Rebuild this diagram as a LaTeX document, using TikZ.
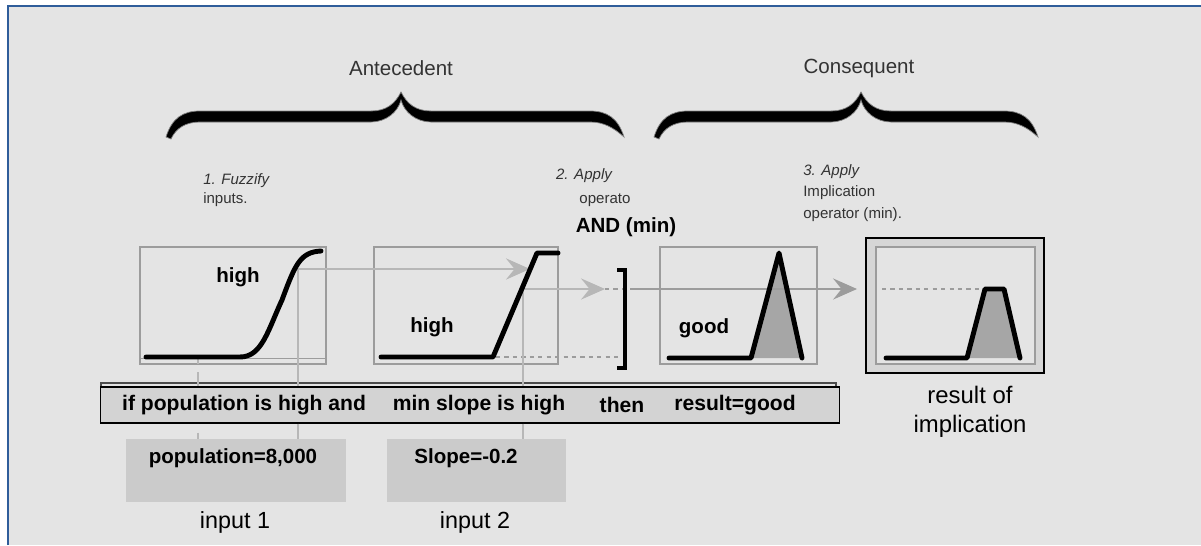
\documentclass[tikz,border=0pt]{standalone}
\usepackage{fontspec}
\setmainfont{Liberation Sans}
\usetikzlibrary{arrows.meta}

\definecolor{bggray}{HTML}{E4E4E4}
\definecolor{framegray}{HTML}{9C9C9C}
\definecolor{arrowgray}{HTML}{B7B7B7}
\definecolor{areagray}{HTML}{A6A6A6}
\definecolor{rulegray}{HTML}{D3D3D3}
\definecolor{inputgray}{HTML}{CBCBCB}
\definecolor{resgray}{HTML}{D6D6D6}
\definecolor{textdark}{HTML}{333333}
\definecolor{frameblue}{HTML}{2F5D9A}

\tikzset{
  mfbox/.style={draw=framegray, line width=0.8pt, minimum height=2.925cm, inner sep=0pt},
  mfcurve/.style={line width=3.5pt, line cap=round, line join=round},
  cutline/.style={draw=arrowgray, line width=1.4pt},
  feed/.style={draw=arrowgray, line width=1.4pt, -{Stealth[length=17pt, width=15pt, inset=6pt]}},
  dotline/.style={draw=framegray, line width=1.2pt, dash pattern=on 3pt off 3pt},
  headtext/.style={text=textdark, font=\fontsize{14.6}{17}\selectfont},
  steptext/.style={text=textdark, inner sep=0pt, font=\fontsize{10.7}{13}\selectfont},
  labtext/.style={font=\fontsize{14.6}{17}\selectfont\bfseries},
  ruletext/.style={font=\fontsize{15}{18}\selectfont\bfseries},
  inbox/.style={fill=inputgray, minimum width=5.5cm, minimum height=1.575cm, inner sep=0pt},
  bigtext/.style={font=\fontsize{16.6}{20}\selectfont, align=center}
}

\begin{document}
\begin{tikzpicture}[x=0.025cm, y=-0.025cm]
\useasboundingbox (0,0) rectangle (1201,545);
\fill[white] (0,0) rectangle (1201,545);
\fill[bggray] (8,6) rectangle (1201,545);
\draw[frameblue, line width=1.4pt] (8,545) -- (8,6) -- (1201,6);

% braces
\foreach \l/\m/\r in {168/401/622, 656/861/1036}{
  \filldraw[draw=gray, line width=0.5pt, fill=black]
    ({\l-2},137) .. controls ({\l+4},118) and ({\l+15},111) .. ({\l+32},111) -- ({\m-30},111)
    .. controls ({\m-15},111) and ({\m-6},104) .. (\m,92)
    .. controls ({\m+6},104) and ({\m+15},111) .. ({\m+30},111) -- ({\r-32},111)
    .. controls ({\r-15},111) and ({\r-4},118) .. ({\r+2},137)
    .. controls ({\r-8},128) and ({\r-18},122) .. ({\r-32},122) -- ({\m+30},122)
    .. controls ({\m+15},122) and ({\m+3},112) .. (\m,100)
    .. controls ({\m-3},112) and ({\m-15},122) .. ({\m-30},122) -- ({\l+32},122)
    .. controls ({\l+18},122) and ({\l+8},128) .. ({\l+3},139) -- cycle;
}
\node[headtext] (ante) at (401,68) {Antecedent};
\node[headtext] (cons) at (859,68) {Consequent};

% step notes
\node[steptext, anchor=west] (fuzz) at (203,181) {\itshape 1. Fuzzify};
\node[steptext, anchor=west] (fuzzb) at (203,200) {inputs.};
\node[steptext] (andop) at (584,176) {\itshape 2. Apply};
\node[steptext] (andopb) at (605,200) {operato};
\node[labtext] (andmin) at (626,227) {AND (min)};
\node[steptext, anchor=west] (imp) at (803,172) {\itshape 3. Apply};
\node[steptext, anchor=west] (impb) at (803,193) {Implication};
\node[steptext, anchor=west] (impc) at (803,215) {operator (min).};

% membership boxes
\node[mfbox, minimum width=4.65cm] (mf1) at (233,305.5) {};
\node[mfbox, minimum width=4.6cm] (mf2) at (466,305.5) {};
\node[mfbox, minimum width=3.925cm] (mf3) at (738.5,305.5) {};
\node[draw=black, fill=resgray, line width=1.2pt, minimum width=4.45cm, minimum height=3.375cm, inner sep=0pt] (res) at (955,305.5) {};
\node[mfbox, fill=bggray, minimum width=3.975cm] (resin) at (955.5,305.5) {};

\draw[framegray, line width=0.6pt] (140,358) -- (326,358);
\node[labtext] (hi1) at (238,277) {high};
\node[labtext] (hi2) at (432,327) {high};
\node[labtext] (gd) at (704,328) {good};

% cut points
\coordinate (cut1) at (298,269);
\coordinate (hit1) at (530,269);
\coordinate (cut2) at (523,289);
\coordinate (hit2) at (605,289);
\coordinate (pass) at (630,289);
\coordinate (hit3) at (857,289);

\draw[dotline] (496,357) -- (619,357);
\draw[dotline] (882,289) -- (983,289);
\fill[areagray] (751,358) -- (779,253) -- (802,358) -- cycle;
\fill[areagray] (967,358) -- (985,289) -- (1004,289) -- (1020,358) -- cycle;

% rule line
\draw[black!70, line width=0.8pt] (101,383) rectangle (836,419);
\node[draw=black, fill=rulegray, line width=0.8pt, minimum width=18.45cm, minimum height=0.9cm, inner sep=0pt] (rule) at (470,405) {};
\node[ruletext] (r1) at (244,405) {if population is high and};
\node[ruletext] (r2) at (479,405) {min slope is high};
\node[ruletext] (r3) at (622,405) {then};
\node[ruletext] (r4) at (735,405) {result=good};

% inputs
\node[inbox] (pop) at (236,470.5) {};
\node[inbox, minimum width=4.475cm] (slp) at (476.5,470.5) {};
\node[labtext] (popv) at (233,458) {population=8,000};
\node[labtext] (slpv) at (466,458) {Slope=-0.2};
\node[bigtext] (in1) at (235,522) {input 1};
\node[bigtext] (in2) at (475,522) {input 2};
\node[bigtext, font=\fontsize{17}{20.6}\selectfont] (resl) at (970,412) {result of\\implication};

% connectors
\draw[cutline] (cut1) -- (cut1 |- rule.north);
\draw[cutline] (cut2) -- (cut2 |- rule.north);
\draw[cutline] (cut1 |- rule.south) -- (cut1 |- pop.north);
\draw[cutline] (cut2 |- rule.south) -- (cut2 |- slp.north);
\draw[cutline] (198,358) -- (198,364);
\draw[cutline] (198,372) -- (rule.north -| 198,0);
\draw[cutline] (rule.south -| 198,0) ++(0,9) -- (pop.north -| 198,0);
\draw[feed, line width=2.1pt] (cut1) -- (hit1);
\draw[feed] (cut2) -- (hit2);
\draw[dotline] (hit2) -- (pass);
\draw[feed, draw=framegray] (pass) -- (hit3);

% curves
\draw[mfcurve] (146,357) -- (240,357) .. controls (262,357) and (268,330) .. (282,300)
  .. controls (295,265) and (300,252) .. (321,251);
\draw[mfcurve] (381,357) -- (493,357) -- (537,253) -- (558,253);
\draw[mfcurve] (669,358) -- (751,358) -- (779,253) -- (802,358);
\draw[mfcurve] (886,358) -- (967,358) -- (985,289) -- (1004,289) -- (1020,358);
\draw[line width=2.8pt] (617,270) -- (625,270) -- (625,368) -- (617,368);
\end{tikzpicture}
\end{document}
